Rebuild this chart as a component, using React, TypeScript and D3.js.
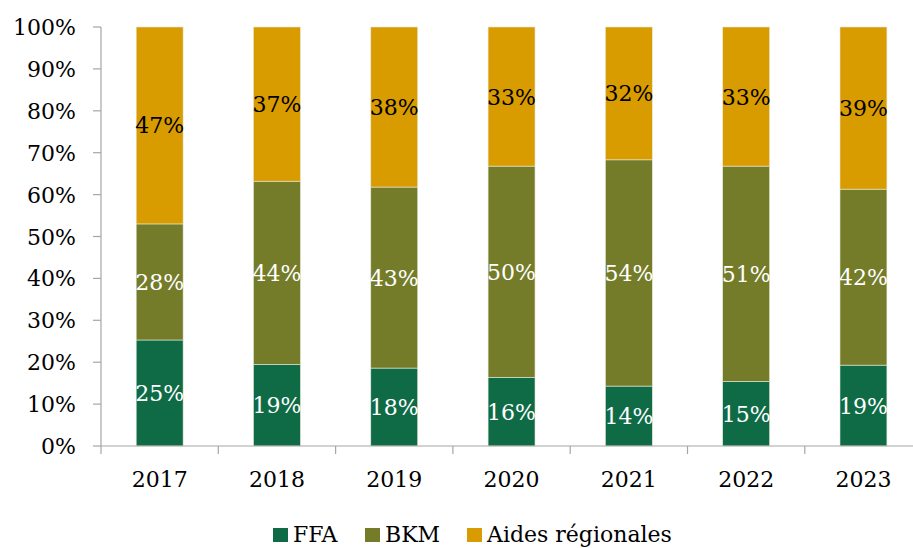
import React from "react";
import * as d3 from "d3";

const years = ["2017", "2018", "2019", "2020", "2021", "2022", "2023"];
const ffa = [25.3, 19.5, 18.6, 16.4, 14.3, 15.4, 19.3];
const bkm = [27.7, 43.7, 43.2, 50.4, 54.0, 51.4, 42.0];
const aides = [47.0, 36.8, 38.2, 33.2, 31.7, 33.2, 38.7];
const labelsFfa = ["25%", "19%", "18%", "16%", "14%", "15%", "19%"];
const labelsBkm = ["28%", "44%", "43%", "50%", "54%", "51%", "42%"];
const labelsAides = ["47%", "37%", "38%", "33%", "32%", "33%", "39%"];
const seriesNames = ["FFA", "BKM", "Aides régionales"];
const colors = ["#0e6b46", "#747c29", "#d89b00"];
const yTicks = [0, 10, 20, 30, 40, 50, 60, 70, 80, 90, 100];

const W = 913, H = 548;
const left = 101, right = 101 + 7 * 117.3, top = 27, bottom = 446;
const FONT = "'DejaVu Serif', serif";

export default function App() {
  const x = d3.scaleBand<string>().domain(years).range([left, right]).paddingInner(0.6).paddingOuter(0.3);
  const y = d3.scaleLinear().domain([0, 100]).range([bottom, top]);
  const series = [ffa, bkm, aides];
  const labels = [labelsFfa, labelsBkm, labelsAides];
  const textColors = ["#ffffff", "#ffffff", "#000000"];
  const step = x.step();

  const segs: any[] = [];
  years.forEach((yr, i) => {
    let acc = 0;
    series.forEach((s, k) => {
      const y0 = acc, y1 = acc + s[i];
      acc = y1;
      segs.push({ yr, k, y0, y1, label: labels[k][i] });
    });
  });

  const legendX = [273, 365, 467];

  return (
    <svg width={W} height={H} style={{ position: "absolute", left: 0, top: 0, background: "#fff" }}>
      {segs.map((s, i) => (
        <rect key={i} x={x(s.yr)} y={y(s.y1)} width={x.bandwidth()} height={y(s.y0) - y(s.y1)}
          fill={colors[s.k]} stroke="#e8e8d8" strokeWidth={0.6} />
      ))}
      {segs.map((s, i) => (
        <text key={"t" + i} x={(x(s.yr) as number) + x.bandwidth() / 2} y={(y(s.y0) + y(s.y1)) / 2 + 8}
          textAnchor="middle" fontFamily={FONT} fontSize={22} fill={textColors[s.k]}>{s.label}</text>
      ))}
      <line x1={left} x2={left} y1={top} y2={bottom} stroke="#a6a6a6" strokeWidth={1.2} />
      <line x1={left} x2={right} y1={bottom} y2={bottom} stroke="#a6a6a6" strokeWidth={1.2} />
      {yTicks.map((t) => (
        <g key={t}>
          <line x1={left - 8} x2={left} y1={y(t)} y2={y(t)} stroke="#a6a6a6" strokeWidth={1.2} />
          <text x={76} y={y(t) + 8} textAnchor="end" fontFamily={FONT} fontSize={22} fill="#000">{t}%</text>
        </g>
      ))}
      {d3.range(0, 8).map((k) => (
        <line key={k} x1={left + k * step} x2={left + k * step} y1={bottom} y2={bottom + 8} stroke="#a6a6a6" strokeWidth={1.2} />
      ))}
      {years.map((yr) => (
        <text key={yr} x={(x(yr) as number) + x.bandwidth() / 2} y={487} textAnchor="middle"
          fontFamily={FONT} fontSize={22} fill="#000">{yr}</text>
      ))}
      {seriesNames.map((n, k) => (
        <g key={n}>
          <rect x={legendX[k]} y={528} width={15} height={14} fill={colors[k]} />
          <text x={legendX[k] + 20} y={542} fontFamily={FONT} fontSize={22} fill="#000">{n}</text>
        </g>
      ))}
    </svg>
  );
}
